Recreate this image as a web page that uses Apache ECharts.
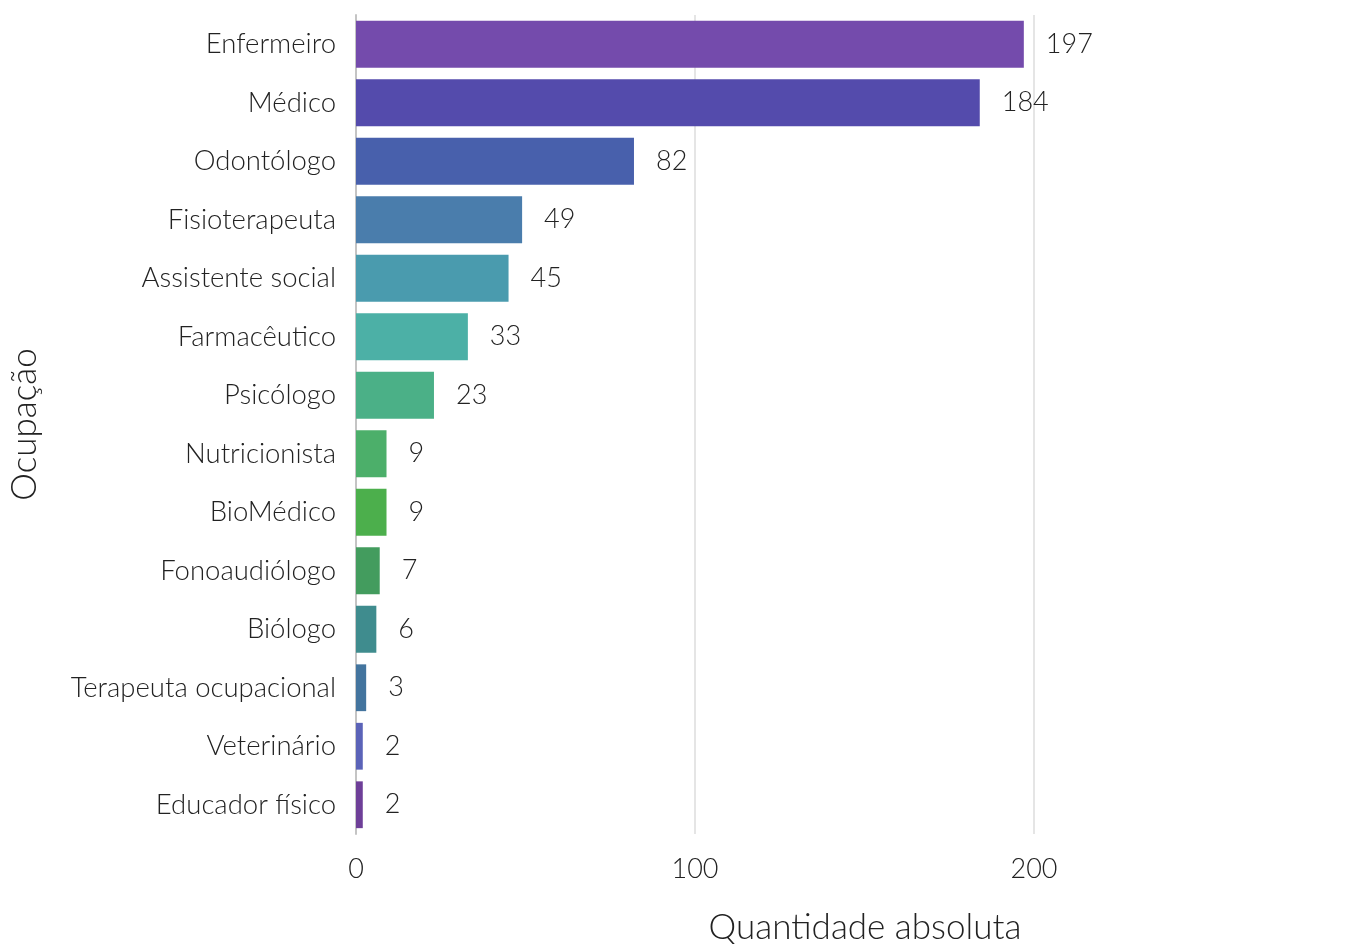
<!DOCTYPE html>
<html>
<head>
<meta charset="utf-8">
<script src="https://cdn.jsdelivr.net/npm/echarts@6/dist/echarts.min.js"></script>
<style>html,body{margin:0;padding:0;background:#fff;}#c{width:1363px;height:944px;}</style>
</head>
<body>
<div id="c"></div>
<script>
const categories = ["Enfermeiro","Médico","Odontólogo","Fisioterapeuta","Assistente social","Farmacêutico","Psicólogo","Nutricionista","BioMédico","Fonoaudiólogo","Biólogo","Terapeuta ocupacional","Veterinário","Educador físico"];
const values = [197,184,82,49,45,33,23,9,9,7,6,3,2,2];
const colors = ["#744BAC","#544BAC","#4860AC","#4A7DAC","#4A9BAE","#4CB0A6","#4BB087","#4CAF6A","#4CAF4C","#439C5E","#3F8C8E","#43749E","#5B63B8","#6E3F98"];
const xTicks = [0,100,200];

const chart = echarts.init(document.getElementById('c'), null, {renderer:'canvas'});
const font = 'Lato';
chart.setOption({
  animation:false,
  backgroundColor:'#ffffff',
  grid:{left:356,right:329,top:15,bottom:110,containLabel:false,outerBoundsMode:'none'},
  xAxis:{
    type:'value', min:0, max:200, interval:100,
    axisLine:{show:false}, axisTick:{show:false},
    splitLine:{show:true,lineStyle:{color:'#dddddd',width:1.5}},
    axisLabel:{fontFamily:font,fontWeight:300,fontSize:27,color:'#222',margin:22,
      formatter:v=>xTicks.includes(v)?String(v):''},
    name:'Quantidade absoluta', nameLocation:'middle', nameGap:76,
    nameTextStyle:{fontFamily:font,fontWeight:300,fontSize:35,color:'#222',padding:[0,0,0,340]}
  },
  yAxis:{
    type:'category', data:categories, inverse:true,
    axisLine:{show:true,lineStyle:{color:'#c4c4c4',width:2}}, axisTick:{show:false},
    axisLabel:{fontFamily:font,fontWeight:300,fontSize:27.5,color:'#222',margin:20},
    name:'Ocupação', nameLocation:'middle', nameGap:314, nameRotate:90,
    nameTextStyle:{fontFamily:font,fontWeight:300,fontSize:35,color:'#222'}
  },
  series:[{
    type:'bar',
    data:values.map((v,i)=>({value:v,itemStyle:{color:colors[i]}})),
    barCategoryGap:'20%',
    label:{show:true,position:'right',distance:22,fontFamily:font,fontWeight:300,fontSize:27,color:'#222'}
  }]
});
</script>
</body>
</html>
